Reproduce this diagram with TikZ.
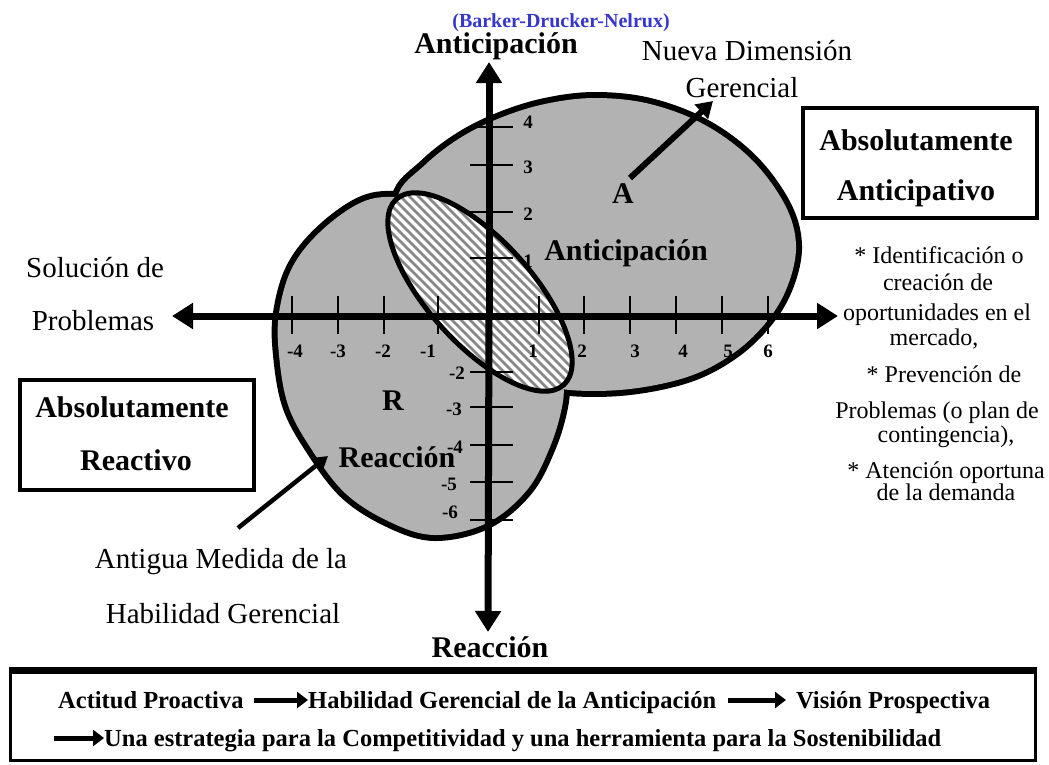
\documentclass[tikz,border=0pt]{standalone}
\usepackage{fontspec}
\setmainfont{Liberation Serif}
\usetikzlibrary{arrows.meta,calc}
\definecolor{regiongray}{RGB}{178,178,178}
\definecolor{hatchgray}{RGB}{135,135,135}
\definecolor{refblue}{RGB}{55,55,205}

\begin{document}
\begin{tikzpicture}[x=1pt,y=-1pt,
  heavy/.style={font=\fontsize{30}{32}\selectfont\bfseries, inner sep=0pt, anchor=base},
  plain/.style={font=\fontsize{29}{31}\selectfont, inner sep=0pt, anchor=base},
  note/.style={font=\fontsize{24}{26}\selectfont, inner sep=0pt, anchor=base},
  ticklab/.style={font=\fontsize{19}{20}\selectfont\bfseries, inner sep=0pt, anchor=base},
  chain/.style={font=\fontsize{24.5}{26}\selectfont\bfseries, inner sep=0pt, anchor=base west},
  axis/.style={line width=7pt, -{Triangle[length=21pt,width=25pt]}},
  pointer/.style={line width=6pt, -{Triangle[length=16pt,width=19pt]}},
  chainarrow/.style={line width=5pt, -{Triangle[length=11pt,width=16pt]}},
  framebox/.style={draw, line width=4pt, minimum width=234pt, minimum height=110pt, inner sep=0pt},
  tickline/.style={line width=1.6pt}
]
\useasboundingbox (0,0) rectangle (1049,764);

% region shapes: outline first, then fill so that only the outer contour stays visible
\def\shapeA{plot[smooth cycle, tension=0.6] coordinates {
  (398,197) (425,165) (460,138) (500,118) (545,104) (595,98) (650,104) (705,125)
  (752,160) (785,205) (796,245) (788,285) (768,320) (735,352) (690,376) (630,389)
  (570,390) (530,380) (490,350) (450,300) (415,245)}}
\def\shapeR{plot[smooth cycle, tension=0.6] coordinates {
  (395,197) (360,203) (320,232) (292,268) (279,313) (279,355) (288,405) (310,447)
  (345,493) (390,522) (435,535) (487,523) (527,490) (550,447) (562,407) (563,380)
  (555,340) (530,280) (490,235) (440,205)}}
\draw[line width=12pt] \shapeA;
\draw[line width=12pt] \shapeR;
\fill[regiongray] \shapeA;
\fill[regiongray] \shapeR;

% overlap zone with diagonal hatching
\def\overlap{[rotate around={-48:(480,292)}] (480,292) ellipse [x radius=125, y radius=52]}
\fill[white] \overlap;
\begin{scope}
  \clip \overlap;
  \foreach \k in {0,...,60}
    \draw[hatchgray, line width=2.6pt] (100+9*\k,130) -- (400+9*\k,430);
\end{scope}
\draw[line width=5pt] \overlap;

% axes
\coordinate (xl) at (172,316);
\coordinate (xr) at (838,316);
\coordinate (yt) at (489,62);
\coordinate (yb) at (488,632);
\draw[axis] (475,316) -- (xl);
\draw[axis] (475,316) -- (xr);
\draw[axis] (489,316) -- (yt);
\draw[axis] (489,316) -- (yb);

% ticks on the horizontal axis
\foreach \x in {292,338,384,438,539,584,630,676,722,768}
  \draw[tickline] (\x,296) -- (\x,334);
\foreach \x/\t in {295/-4,338/-3,383/-2,428/-1,533/1,582/2,635/3,683/4,728/5,768/6}
  \node[ticklab] (hx\t) at (\x,357) {\t};

% ticks on the vertical axis
\foreach \y in {127,165,212,258,372,407,445,482,520}
  \draw[tickline] (470,\y) -- (513,\y);
\foreach \y/\t in {128/4,173/3,220/2,267/1}
  \node[ticklab] (vy\t) at (528,\y) {\t};
\foreach \y/\x/\t in {379/457/-2,415/454/-3,453/455/-4,490/449/-5,518/450/-6}
  \node[ticklab] (vy\t) at (\x,\y) {\t};

% titles and labels
\node[font=\fontsize{20}{22}\selectfont\bfseries, text=refblue, inner sep=0pt, anchor=base]
  (src) at (561,27) {(Barker-Drucker-Nelrux)};
\node[heavy] (antTop) at (496,53) {Anticipación};
\node[heavy] (reaBot) at (490,657) {Reacción};
\node[plain] (nd1) at (747,60) {Nueva Dimensión};
\node[plain] (nd2) at (742,97) {Gerencial};
\node[heavy] (lblA) at (623,203) {A};
\node[heavy] (antIn) at (626,260) {Anticipación};
\node[heavy] (lblR) at (393,410) {R};
\node[heavy] (reaIn) at (397,467) {Reacción};
\node[plain] (sp1) at (95,277) {Solución de};
\node[plain] (sp2) at (93,330) {Problemas};
\node[plain] (am1) at (221,568) {Antigua Medida de la};
\node[plain] (am2) at (223,623) {Habilidad Gerencial};

% boxes
\node[framebox] (boxAnt) at (920,163) {};
\node[heavy] (boxAnt1) at (916,150) {Absolutamente};
\node[heavy] (boxAnt2) at (916,200) {Anticipativo};
\node[framebox] (boxRea) at (136.5,435) {};
\node[heavy] (boxRea1) at (132,417) {Absolutamente};
\node[heavy] (boxRea2) at (136,470) {Reactivo};

% right-hand notes
\node[note] (r1) at (939,263) {* Identificación o};
\node[note] (r2) at (938,290) {creación de};
\node[note] (r3) at (937,320) {oportunidades en el};
\node[note] (r4) at (934,345) {mercado,};
\node[note] (r5) at (944,382) {* Prevención de};
\node[note] (r6) at (937,418) {Problemas (o plan de};
\node[note] (r7) at (946,442) {contingencia),};
\node[note] (r8) at (946,478) {* Atención oportuna};
\node[note] (r9) at (946,500) {de la demanda};

% pointers
\coordinate (pA0) at (630,178);
\coordinate (pA1) at (713,101);
\draw[pointer] (pA0) -- (pA1);
\coordinate (pR0) at (238,528);
\coordinate (pR1) at (328,456);
\draw[line width=4.5pt, -{Triangle[length=13pt,width=15pt]}] (pR0) -- (pR1);

% bottom frame with the chain of concepts
\draw[line width=3pt] (10,670) rectangle (1035,760);
\draw[line width=7pt] (8.5,670) -- (1036.5,670);
\node[chain] (c1) at (58,708) {Actitud Proactiva};
\node[chain] (c2) at (308,708) {Habilidad Gerencial de la Anticipación};
\node[chain] (c3) at (796,708) {Visión Prospectiva};
\coordinate (c4s) at (54,746);
\node[chain] (c4) at (104,746) {Una estrategia para la Competitividad y una herramienta para la Sostenibilidad};
\draw[chainarrow] ($(c1.base east)+(10,-8)$) -- ($(c2.base west)+(0,-8)$);
\draw[chainarrow] ($(c2.base east)+(12,-8)$) -- ($(c3.base west)+(-10,-8)$);
\draw[chainarrow] ($(c4s)+(0,-8)$) -- ($(c4.base west)+(0,-8)$);
\end{tikzpicture}
\end{document}
